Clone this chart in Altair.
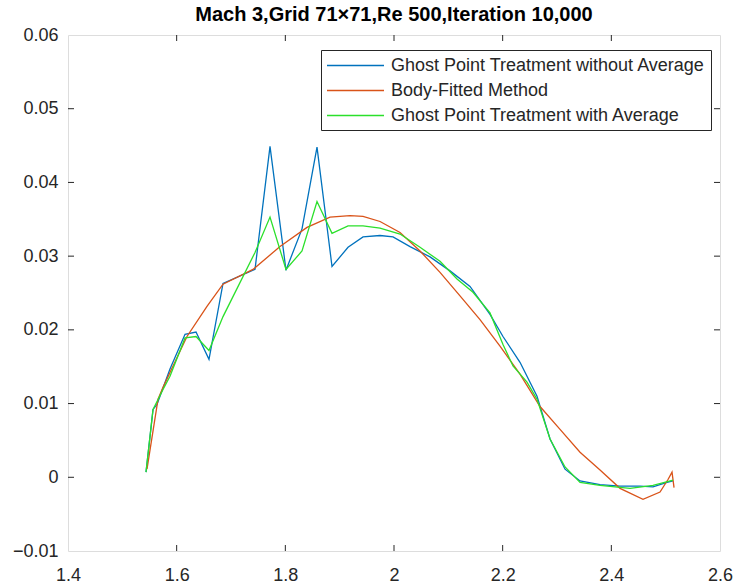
import altair as alt
import pandas as pd

# ---------------- data ----------------
blue_x = [1.5436, 1.5565, 1.5638, 1.5877, 1.6154, 1.6356, 1.6595, 1.6853, 1.7442, 1.7718,
          1.8012, 1.8307, 1.8583, 1.8859, 1.9154, 1.9430, 1.9743, 1.9982, 2.0295, 2.0663,
          2.1031, 2.1399, 2.1767, 2.2006, 2.2319, 2.2632, 2.2872, 2.3148, 2.3424, 2.3792,
          2.4160, 2.4528, 2.4767, 2.5025, 2.5136]
blue_y = [0.0007, 0.0092, 0.0099, 0.0147, 0.0194, 0.0197, 0.0160, 0.0263, 0.0282, 0.0449,
          0.0281, 0.0337, 0.0448, 0.0286, 0.0312, 0.0326, 0.0328, 0.0326, 0.0313, 0.0299,
          0.0280, 0.0259, 0.0221, 0.0191, 0.0156, 0.0110, 0.0052, 0.0011, -0.0005, -0.0010,
          -0.0012, -0.0012, -0.0013, -0.0007, -0.0005]

orange_x = [1.5454, 1.5657, 1.5749, 1.5933, 1.6190, 1.6558, 1.6853, 1.7405, 1.7902, 1.8399,
            1.8822, 1.9190, 1.9430, 1.9743, 2.0111, 2.0479, 2.0847, 2.1215, 2.1583, 2.1951,
            2.2319, 2.2688, 2.3056, 2.3424, 2.3792, 2.4160, 2.4583, 2.4896, 2.5043, 2.5117,
            2.5154]
orange_y = [0.0011, 0.0106, 0.0122, 0.0151, 0.0191, 0.0232, 0.0262, 0.0282, 0.0313, 0.0339,
            0.0353, 0.0355, 0.0354, 0.0347, 0.0332, 0.0307, 0.0278, 0.0246, 0.0214, 0.0178,
            0.0140, 0.0096, 0.0065, 0.0034, 0.0010, -0.0015, -0.0030, -0.0020, -0.0003, 0.0007,
            -0.0014]

green_x = [1.5436, 1.5565, 1.5749, 1.5877, 1.6154, 1.6356, 1.6595, 1.6853, 1.7442, 1.7718,
           1.8012, 1.8307, 1.8583, 1.8859, 1.9154, 1.9430, 1.9743, 2.0111, 2.0479, 2.0847,
           2.1160, 2.1454, 2.1767, 2.2006, 2.2190, 2.2448, 2.2632, 2.2872, 2.3148, 2.3424,
           2.3792, 2.4344, 2.4767, 2.5136]
green_y = [0.0007, 0.0092, 0.0119, 0.0137, 0.0189, 0.0191, 0.0172, 0.0218, 0.0305, 0.0353,
           0.0282, 0.0307, 0.0374, 0.0331, 0.0341, 0.0341, 0.0338, 0.0330, 0.0312, 0.0293,
           0.0269, 0.0251, 0.0223, 0.0180, 0.0151, 0.0129, 0.0106, 0.0052, 0.0014, -0.0007,
           -0.0011, -0.0015, -0.0011, -0.0004]

series_names = ["Ghost Point Treatment without Average",
                "Body-Fitted Method",
                "Ghost Point Treatment with Average"]
series_colors = ["#0072BD", "#D95319", "#2BE02B"]

x_ticks = [1.4, 1.6, 1.8, 2.0, 2.2, 2.4, 2.6]
y_ticks = [-0.01, 0.0, 0.01, 0.02, 0.03, 0.04, 0.05, 0.06]
title_text = "Mach 3,Grid 71\u00d771,Re 500,Iteration 10,000"

# ---------------- build table ----------------
rows = []
for name, xs, ys in zip(series_names, [blue_x, orange_x, green_x], [blue_y, orange_y, green_y]):
    for i, (xv, yv) in enumerate(zip(xs, ys)):
        rows.append({"series": name, "x": xv, "y": yv, "idx": i})
df = pd.DataFrame(rows)

W, H = 652, 516
FONT = "Liberation Sans"
AX = "#262626"

xscale = alt.Scale(domain=[1.4, 2.6], nice=False, zero=False)
yscale = alt.Scale(domain=[-0.01, 0.06], nice=False, zero=False)

x_axis = alt.Axis(values=x_ticks, ticks=False, domain=False, grid=False,
                  labelFontSize=18, labelFont=FONT, labelColor=AX, labelPadding=15,
                  labelExpr="datum.value == 2 ? '2' : format(datum.value, '.1f')",
                  title=None, labelFlush=False)
y_axis = alt.Axis(values=y_ticks, ticks=False, domain=False, grid=False,
                  labelFontSize=18, labelFont=FONT, labelColor=AX, labelPadding=10,
                  labelExpr="datum.value == 0 ? '0' : format(datum.value, '.2f')",
                  title=None, labelFlush=False)

lines = alt.Chart(df).mark_line(strokeWidth=1.3).encode(
    x=alt.X("x:Q", scale=xscale, axis=x_axis),
    y=alt.Y("y:Q", scale=yscale, axis=y_axis),
    color=alt.Color("series:N",
                    scale=alt.Scale(domain=series_names, range=series_colors),
                    legend=alt.Legend(orient="none", legendX=253, legendY=15,
                                      title=None, strokeColor=AX, fillColor="white",
                                      padding=5, symbolType="M-3,0H3", symbolSize=361,
                                      symbolOffset=19,
                                      symbolStrokeWidth=1.5, labelFontSize=18,
                                      labelFont=FONT, labelColor=AX, rowPadding=5,
                                      labelOffset=25, labelLimit=0)),
    order=alt.Order("idx:Q"),
)

xt_df = pd.DataFrame({"x": x_ticks[1:-1]})
yt_df = pd.DataFrame({"y": y_ticks[1:-1]})
TL = 6

tick_bottom = alt.Chart(xt_df).mark_rule(color=AX, strokeWidth=1).encode(
    x=alt.X("x:Q", scale=xscale), y=alt.value(H), y2=alt.value(H - TL))
tick_top = alt.Chart(xt_df).mark_rule(color=AX, strokeWidth=1).encode(
    x=alt.X("x:Q", scale=xscale), y=alt.value(0), y2=alt.value(TL))
tick_left = alt.Chart(yt_df).mark_rule(color=AX, strokeWidth=1).encode(
    y=alt.Y("y:Q", scale=yscale), x=alt.value(0), x2=alt.value(TL))
tick_right = alt.Chart(yt_df).mark_rule(color=AX, strokeWidth=1).encode(
    y=alt.Y("y:Q", scale=yscale), x=alt.value(W), x2=alt.value(W - TL))

chart = alt.layer(tick_bottom, tick_top, tick_left, tick_right, lines).properties(
    width=W, height=H,
    title=alt.Title(title_text, fontSize=20, fontWeight="bold", font=FONT,
                    color="black", offset=1, anchor="middle"),
    autosize=alt.AutoSizeParams(type="none"),
    padding={"left": 68, "top": 35, "right": 17, "bottom": 37},
).configure_view(stroke=AX, strokeWidth=1).configure(background="white")

chart.save("out.html", embed_options={"renderer": "svg", "actions": False})
